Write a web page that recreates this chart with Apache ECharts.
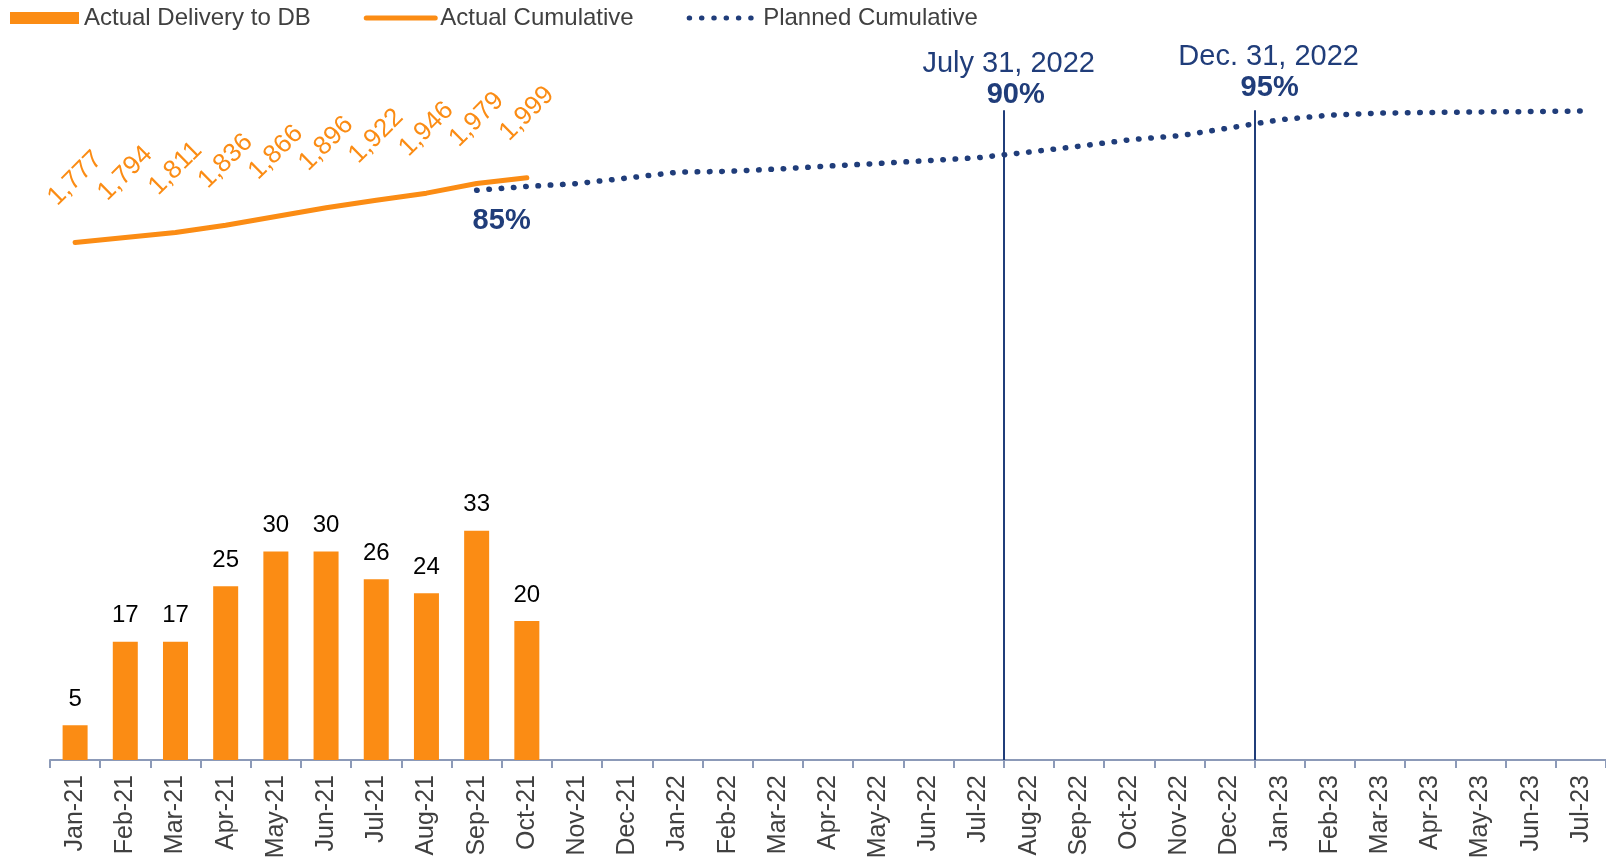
<!DOCTYPE html>
<html>
<head>
<meta charset="utf-8">
<title>Delivery to DB</title>
<script src="https://cdn.jsdelivr.net/npm/echarts@6/dist/echarts.min.js"></script>
<style>
    html, body { margin: 0; padding: 0; background: #fff; }
    #chart { width: 1606px; height: 866px; }
</style>
</head>
<body>
<div id="chart"></div>
<script>
    // categories
    var months = [
        'Jan-21', 'Feb-21', 'Mar-21', 'Apr-21', 'May-21', 'Jun-21', 'Jul-21', 'Aug-21', 'Sep-21', 'Oct-21', 'Nov-21', 'Dec-21',
        'Jan-22', 'Feb-22', 'Mar-22', 'Apr-22', 'May-22', 'Jun-22', 'Jul-22', 'Aug-22', 'Sep-22', 'Oct-22', 'Nov-22', 'Dec-22',
        'Jan-23', 'Feb-23', 'Mar-23', 'Apr-23', 'May-23', 'Jun-23', 'Jul-23'
    ];

    // series values
    var actualDelivery = [5, 17, 17, 25, 30, 30, 26, 24, 33, 20];
    var actualCumulative = [1777, 1794, 1811, 1836, 1866, 1896, 1922, 1946, 1979, 1999];
    var plannedCumulative = [
        null, null, null, null, null, null, null, null,
        1956, 1969, 1979, 1998, 2018, 2021, 2029, 2039, 2048, 2058, 2068,
        2087, 2107, 2129, 2143, 2170, 2198, 2214, 2221, 2223, 2225, 2226, 2228
    ];
    var plannedStartLabel = '85%';

    // milestones (months counted from start of Jan-21)
    var milestoneMonths = [19, 24];
    var milestoneDates = ['July 31, 2022', 'Dec. 31, 2022'];
    var milestonePercents = ['90%', '95%'];

    var ORANGE = '#FB8C14';
    var NAVY = '#203D7A';
    var FONT = 'Liberation Sans';
    var MARKER_TOP = 2231;
    var DOTS = [0.5, 11.8];
    var markerOffsets = [[5, 0], [14, -7]];
    var percentPads = [[0, 0, 0, 14], [0, 0, 0, 2]];

    function fmt(v) {
        return String(v).replace(/\B(?=(\d{3})+(?!\d))/g, ',');
    }

    var plannedData = plannedCumulative.map(function (v, i) {
        if (v !== null && i > 0 && plannedCumulative[i - 1] === null) {
            return {
                value: v,
                label: {
                    show: true,
                    formatter: plannedStartLabel,
                    position: 'bottom',
                    distance: 16,
                    offset: [25, 0],
                    color: NAVY,
                    fontSize: 29,
                    fontWeight: 'bold',
                    fontFamily: FONT
                }
            };
        }
        return v;
    });

    var milestoneLines = milestoneMonths.map(function (m, i) {
        return [
            {
                coord: [m, 0],
                label: {
                    formatter: '{d|' + milestoneDates[i] + '}\n{p|' + milestonePercents[i] + '}',
                    offset: markerOffsets[i],
                    rich: {
                        d: { fontSize: 29, color: NAVY, lineHeight: 31, fontFamily: FONT },
                        p: { fontSize: 29, color: NAVY, lineHeight: 31, fontWeight: 'bold', fontFamily: FONT, padding: percentPads[i] }
                    }
                }
            },
            { coord: [m, MARKER_TOP] }
        ];
    });

    var chart = echarts.init(document.getElementById('chart'));

    chart.setOption({
        animation: false,
        textStyle: { fontFamily: FONT },
        legend: {
            left: 10,
            top: 6,
            padding: 0,
            itemWidth: 69,
            itemHeight: 12,
            itemGap: 53,
            textStyle: { fontSize: 24, color: '#404040', fontFamily: FONT },
            data: [
                { name: 'Actual Delivery to DB', icon: 'rect' },
                {
                    name: 'Actual Cumulative',
                    itemStyle: { opacity: 0 },
                    lineStyle: { color: ORANGE, width: 5, cap: 'round', type: 'solid' }
                },
                {
                    name: 'Planned Cumulative',
                    itemStyle: { opacity: 0 },
                    lineStyle: { color: NAVY, width: 5, cap: 'round', type: DOTS }
                }
            ]
        },
        grid: {
            left: 50,
            right: 0,
            top: 65,
            bottom: 106,
            containLabel: false,
            outerBoundsMode: 'none'
        },
        xAxis: [{
            type: 'category',
            data: months,
            axisLine: { lineStyle: { color: '#8C9AB8', width: 2 } },
            axisTick: { show: true, length: 8, lineStyle: { color: '#8C9AB8', width: 2 } },
            axisLabel: {
                interval: 0,
                rotate: 90,
                margin: 15,
                fontSize: 25,
                color: '#404040',
                fontFamily: FONT
            },
            splitLine: { show: false }
        }, {
            type: 'value',
            min: 0,
            max: 31,
            show: false
        }],
        yAxis: [{
            type: 'value',
            min: 0,
            max: 100,
            show: false,
            splitLine: { show: false }
        }, {
            type: 'value',
            min: 0,
            max: 2386,
            show: false,
            splitLine: { show: false }
        }],
        series: [{
            name: 'Actual Delivery to DB',
            type: 'bar',
            data: actualDelivery,
            barWidth: 25,
            itemStyle: { color: ORANGE, borderRadius: 0 },
            label: {
                show: true,
                position: 'top',
                distance: 14,
                color: '#000',
                fontSize: 24,
                fontFamily: FONT
            }
        }, {
            name: 'Planned Cumulative',
            type: 'line',
            yAxisIndex: 1,
            data: plannedData,
            symbol: 'circle',
            symbolSize: 0,
            itemStyle: { color: NAVY },
            lineStyle: { color: NAVY, width: 5.5, type: DOTS, cap: 'round' },
            label: { show: false }
        }, {
            name: 'Actual Cumulative',
            type: 'line',
            yAxisIndex: 1,
            data: actualCumulative,
            symbol: 'circle',
            symbolSize: 0,
            itemStyle: { color: ORANGE },
            lineStyle: { color: ORANGE, width: 5, cap: 'round', join: 'round' },
            label: {
                show: true,
                position: 'top',
                distance: 64,
                rotate: 45,
                align: 'center',
                verticalAlign: 'middle',
                color: ORANGE,
                fontSize: 26,
                fontFamily: FONT,
                formatter: function (p) { return fmt(p.value); }
            }
        }, {
            name: 'milestones',
            type: 'scatter',
            xAxisIndex: 1,
            yAxisIndex: 1,
            data: milestoneMonths.map(function (m) { return [m, 0]; }),
            symbolSize: 0,
            silent: true,
            markLine: {
                silent: true,
                symbol: ['none', 'none'],
                lineStyle: { color: NAVY, width: 2, type: 'solid' },
                label: { show: true, position: 'end', distance: 0 },
                data: milestoneLines
            }
        }]
    });
</script>
</body>
</html>
